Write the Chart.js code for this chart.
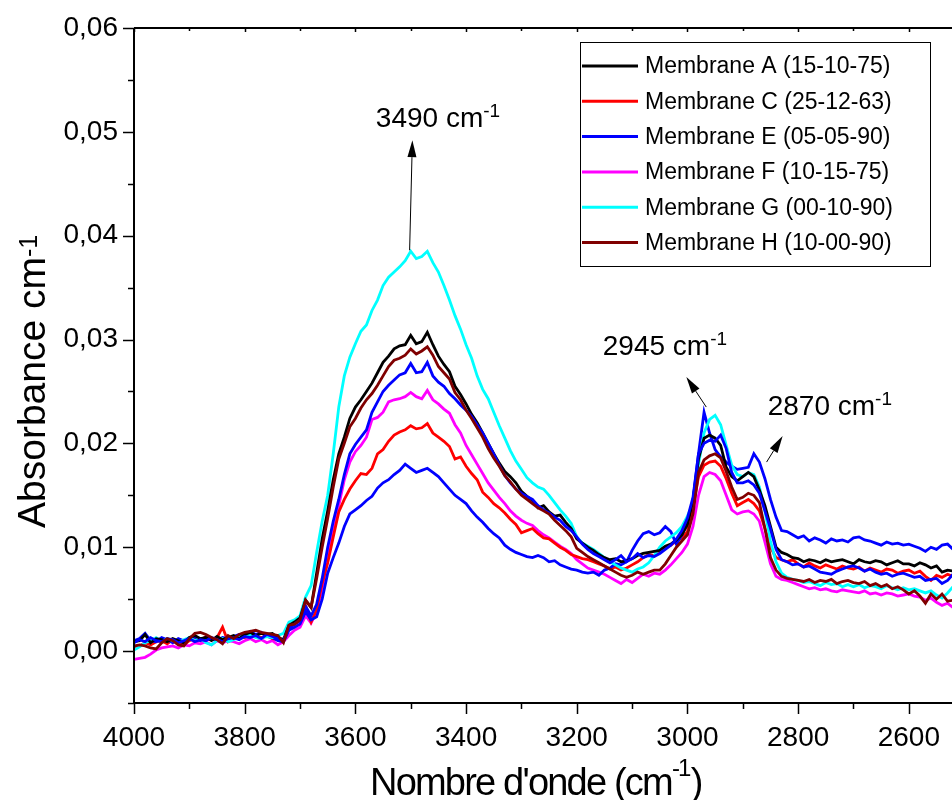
<!DOCTYPE html>
<html>
<head>
<meta charset="utf-8">
<script src="https://cdn.jsdelivr.net/npm/chart.js@4.4.1/dist/chart.umd.min.js"></script>
<style>
  html, body { margin: 0; padding: 0; background: #fff; }
  #wrap { width: 952px; height: 800px; }
</style>
</head>
<body>
<div id="wrap"><canvas id="chart" width="952" height="800"></canvas></div>
<script>
// Wavenumber grid (cm-1), read every 10 cm-1
const wavenumbers = [
  4000,3990,3980,3970,3960,3950,3940,3930,3920,3910,
  3900,3890,3880,3870,3860,3850,3840,3830,3820,3810,
  3800,3790,3780,3770,3760,3750,3740,3730,3720,3710,
  3700,3690,3680,3670,3660,3650,3640,3630,3620,3610,
  3600,3590,3580,3570,3560,3550,3540,3530,3520,3510,
  3500,3490,3480,3470,3460,3450,3440,3430,3420,3410,
  3400,3390,3380,3370,3360,3350,3340,3330,3320,3310,
  3300,3290,3280,3270,3260,3250,3240,3230,3220,3210,
  3200,3190,3180,3170,3160,3150,3140,3130,3120,3110,
  3100,3090,3080,3070,3060,3050,3040,3030,3020,3010,
  3000,2990,2980,2970,2960,2950,2940,2930,2920,2910,
  2900,2890,2880,2870,2860,2850,2840,2830,2820,2810,
  2800,2790,2780,2770,2760,2750,2740,2730,2720,2710,
  2700,2690,2680,2670,2660,2650,2640,2630,2620,2610,
  2600,2590,2580,2570,2560,2550,2540,2530,2520
];

// Absorbance values in units of 1e-3 cm-1
const membraneA = [
  0.9,1.0,1.6,0.8,1.2,1.1,0.9,1.2,1.0,0.8,
  1.3,1.5,1.2,1.3,1.0,1.4,1.1,1.3,1.5,1.2,
  1.6,1.8,1.5,1.7,1.6,1.7,1.3,1.1,2.5,2.8,
  3.2,4.9,4.2,7.5,10.8,13.5,16.5,19.0,20.6,22.4,
  23.5,24.2,25.0,25.8,26.8,27.8,28.4,29.1,29.4,29.5,
  30.4,29.6,29.8,30.7,29.5,28.4,27.6,26.9,25.5,24.7,
  23.8,22.8,22.0,21.0,20.0,19.0,18.1,17.3,16.8,16.2,
  15.4,14.9,14.5,13.8,14.0,13.4,13.0,13.1,12.4,11.8,
  10.8,10.4,10.0,9.7,9.3,9.0,8.8,8.9,8.6,8.7,
  8.9,9.2,9.4,9.5,9.6,9.7,10.1,10.3,10.7,11.2,
  12.2,14.5,18.5,20.5,20.8,20.5,19.8,17.7,16.8,16.4,
  16.8,17.2,16.8,15.5,14.0,12.0,10.0,9.5,9.3,9.0,
  8.9,8.6,8.8,8.7,8.5,8.8,8.6,8.7,8.8,8.6,
  8.4,8.8,8.6,8.5,8.7,8.6,8.3,8.5,8.7,8.4,
  8.4,8.2,8.5,8.3,8.0,8.2,7.6,7.8,7.7
];
const membraneC = [
  0.4,0.5,0.8,0.6,0.9,1.0,0.7,1.1,0.8,0.6,
  1.0,1.2,1.0,1.4,1.1,1.3,2.3,0.9,1.2,1.4,
  1.3,1.5,1.4,1.3,1.5,1.2,1.1,0.9,2.3,2.6,
  2.9,4.4,2.8,4.0,6.5,8.5,11.0,13.4,14.6,15.6,
  16.4,17.1,17.0,17.6,19.0,19.4,20.2,20.8,21.1,21.3,
  21.7,21.4,21.5,21.9,21.0,20.6,20.2,19.7,18.5,18.7,
  17.8,17.1,16.5,15.3,14.8,14.2,13.8,13.3,12.7,12.2,
  11.4,11.6,11.8,11.3,10.9,10.8,10.4,10.0,9.7,9.3,
  9.1,8.9,8.8,8.6,8.4,8.2,7.9,8.1,7.8,8.0,
  8.3,8.6,9.0,9.3,9.2,9.8,10.0,10.2,10.6,10.9,
  11.5,13.8,16.8,17.9,18.2,18.3,17.8,16.6,15.2,14.0,
  14.3,14.6,14.2,13.5,11.8,10.0,9.0,8.8,8.6,8.8,
  8.4,8.1,8.5,8.2,8.0,8.3,8.1,7.9,8.2,8.0,
  7.9,8.1,7.7,8.0,7.8,7.6,7.9,7.8,7.5,7.7,
  7.8,7.5,7.7,7.2,6.8,7.3,7.1,7.4,7.2
];
const membraneE = [
  1.0,1.2,1.7,1.0,0.9,1.3,1.1,0.8,1.2,1.0,
  1.1,1.4,1.0,1.3,1.2,1.0,1.3,1.2,1.4,1.6,
  1.5,1.9,1.6,1.8,1.4,1.3,1.0,0.9,2.0,2.3,
  2.6,3.8,3.0,3.3,5.0,7.5,9.0,10.4,12.0,13.2,
  13.6,14.0,14.5,14.9,15.7,16.2,16.5,17.0,17.4,18.0,
  17.6,17.2,17.4,17.6,17.2,16.8,16.2,15.6,15.0,14.6,
  14.2,13.5,12.9,12.4,11.8,11.3,10.9,10.2,9.8,9.5,
  9.3,9.1,9.0,9.2,9.0,8.6,8.7,8.3,8.1,7.9,
  7.8,7.6,7.5,7.6,7.3,7.8,8.0,8.4,8.3,8.6,
  9.7,10.6,11.3,11.5,11.2,11.4,12.0,11.5,10.3,11.2,
  12.6,14.5,19.0,23.0,21.0,19.4,18.7,18.2,17.8,17.5,
  17.6,17.7,19.0,18.2,16.6,14.6,12.9,11.6,11.5,11.2,
  10.9,11.1,10.6,10.9,10.7,10.4,10.8,10.6,10.7,10.5,
  10.9,11.0,10.7,10.6,10.4,10.2,10.5,10.3,10.4,10.2,
  10.3,10.1,9.9,9.6,10.0,9.8,10.2,10.3,9.8
];
const membraneF = [
  -0.8,-0.7,-0.6,-0.3,0.1,0.3,0.4,0.5,0.3,0.6,
  0.5,0.8,0.7,0.9,0.6,1.0,0.8,1.0,0.9,0.7,
  1.0,1.2,0.9,1.1,0.8,1.0,0.6,0.9,1.5,2.0,
  2.3,3.4,2.7,3.8,6.0,9.0,12.0,14.0,16.5,18.2,
  19.2,19.8,20.6,22.3,22.5,23.0,24.0,24.2,24.3,24.5,
  24.9,24.5,24.3,25.1,24.2,23.8,23.3,22.9,21.8,21.0,
  19.8,18.9,18.0,17.1,16.2,15.5,14.8,14.2,13.5,13.0,
  12.6,12.3,12.1,11.6,11.2,10.9,10.5,10.1,9.8,9.4,
  8.8,8.4,8.0,7.8,7.6,7.4,7.1,6.8,6.5,6.9,
  6.6,7.0,7.4,7.2,7.5,7.4,7.8,8.3,8.9,9.5,
  10.3,12.0,15.0,16.8,17.2,17.0,16.4,15.0,13.6,13.2,
  13.4,13.5,13.2,12.5,10.5,8.4,7.2,6.9,6.8,6.6,
  6.4,6.2,6.0,6.1,5.9,6.0,5.8,5.7,5.9,5.8,
  5.7,5.6,5.8,5.5,5.6,5.4,5.6,5.5,5.3,5.4,
  5.5,5.3,5.2,4.9,5.1,4.7,4.4,4.6,4.2
];
const membraneG = [
  0.1,0.4,0.8,1.0,1.3,0.9,1.2,1.0,0.8,1.1,
  1.3,1.0,1.2,0.8,0.6,1.0,1.2,0.9,1.1,1.3,
  1.5,1.6,1.3,1.2,1.4,1.3,1.5,1.7,2.8,3.0,
  3.4,5.2,6.3,9.5,12.5,15.0,19.0,23.5,26.5,28.3,
  29.6,30.8,31.4,32.8,33.8,35.2,36.0,36.5,37.0,37.6,
  38.5,37.8,38.0,38.5,37.4,36.5,35.2,33.8,32.3,31.0,
  29.5,28.2,26.5,25.2,24.3,23.0,21.7,20.5,19.3,18.3,
  17.5,16.7,16.2,15.8,15.6,15.0,14.3,13.6,13.0,12.3,
  11.0,10.4,10.1,9.8,9.4,9.0,8.6,8.3,8.0,7.8,
  7.6,7.9,8.1,8.5,9.2,10.0,10.6,11.0,11.4,12.0,
  13.0,14.2,18.0,21.0,22.3,22.7,21.8,19.8,17.9,17.0,
  16.8,17.2,17.0,15.8,13.5,10.6,8.6,7.5,7.1,6.9,
  6.8,6.6,6.7,6.5,6.3,6.6,6.4,6.5,6.2,6.4,
  6.2,6.4,6.1,6.3,6.2,6.0,6.3,6.1,5.9,6.1,
  5.9,6.0,5.8,5.6,5.8,5.4,5.1,5.6,6.2
];
const membraneH = [
  0.5,0.6,0.5,0.3,0.2,0.8,1.2,1.0,0.6,0.5,
  1.2,1.7,1.8,1.6,1.3,1.1,0.7,1.5,1.2,1.6,
  1.8,1.9,2.0,1.8,1.7,1.6,1.5,0.8,2.5,2.6,
  3.0,4.9,4.2,7.0,10.0,12.8,15.8,18.5,20.0,21.6,
  22.4,23.4,24.2,24.8,25.6,26.5,27.4,28.0,28.2,28.5,
  29.1,28.6,28.9,29.3,28.5,27.4,26.8,26.2,24.9,24.2,
  23.2,22.4,21.5,20.6,19.5,18.6,17.8,16.9,16.3,15.6,
  15.0,14.6,14.2,13.8,13.5,13.2,12.6,12.1,11.6,11.0,
  9.9,9.5,9.1,8.8,8.5,8.2,7.9,7.6,7.3,7.1,
  7.3,7.6,7.4,7.6,7.8,7.8,8.4,9.2,10.0,10.6,
  11.2,13.2,17.2,18.4,18.8,19.0,18.6,17.3,15.8,14.6,
  14.8,15.2,15.0,14.3,11.8,9.0,7.8,7.2,7.0,6.9,
  6.8,6.7,6.9,6.6,6.8,6.7,6.9,6.5,6.7,6.8,
  6.6,6.5,6.7,6.3,6.5,6.2,6.4,6.0,6.2,5.9,
  5.5,5.8,5.3,4.6,5.5,5.0,5.5,4.8,4.9
];
// second blue trace drawn in the figure but not listed in its legend
const blueExtra = [
  0.8,1.1,0.9,1.3,1.0,0.9,1.2,1.1,0.8,1.0,
  1.2,0.9,1.1,1.0,1.3,1.1,0.9,1.2,1.3,1.1,
  1.4,1.3,1.5,1.2,1.6,1.4,1.2,1.0,2.2,2.6,
  3.0,4.3,3.4,4.5,7.0,10.0,12.5,14.6,17.0,19.0,
  19.9,20.6,21.3,23.0,24.0,25.0,25.6,26.1,26.6,26.8,
  27.7,26.8,26.9,27.8,26.5,25.9,25.5,24.8,24.3,23.7,
  23.2,22.6,21.8,21.0,20.0,19.0,17.9,16.9,16.2,15.6,
  15.2,14.9,14.6,14.0,13.6,13.3,12.9,12.6,12.0,11.6,
  11.0,10.3,9.8,9.4,9.1,8.8,8.5,8.8,9.2,8.6,
  8.9,9.4,9.0,9.2,9.1,9.4,9.8,10.2,10.8,11.6,
  12.8,14.8,19.0,20.0,20.3,20.2,20.8,19.5,17.2,16.2,
  16.2,16.4,16.0,15.2,13.5,11.8,9.8,8.8,8.6,8.3,
  8.4,8.1,8.2,7.9,7.6,7.5,7.4,7.7,7.9,8.1,
  8.2,8.0,7.7,7.9,7.6,7.4,7.5,7.2,7.4,7.5,
  7.3,7.1,7.2,6.8,6.9,7.0,6.5,6.8,7.4
];

const seriesLabels = [
  'Membrane A (15-10-75)', 'Membrane C (25-12-63)', 'Membrane E (05-05-90)',
  'Membrane F (10-15-75)', 'Membrane G (00-10-90)', 'Membrane H (10-00-90)', ''
];
const seriesValues = [membraneA, membraneC, membraneE, membraneF, membraneG, membraneH, blueExtra];
const seriesColors = ['#000000', '#ff0000', '#0000ff', '#ff00ff', '#00ffff', '#800000', '#0000ff'];
const drawOrder = [2, 5, 4, 6, 3, 0, 1];

// axis ticks
const xTickValues = [2600,2700,2800,2900,3000,3100,3200,3300,3400,3500,3600,3700,3800,3900,4000];
const yTickValues = [-0.005,0,0.005,0.01,0.015,0.02,0.025,0.03,0.035,0.04,0.045,0.05,0.055,0.06];
const yLabelValues = [0, 0.01, 0.02, 0.03, 0.04, 0.05, 0.06];

// peak annotations: label, label anchor, arrow tail, arrow tip (data coords)
const peakLabels = ['3490 cm', '2945 cm', '2870 cm'];
const peakLabelAt = [[3563, 0.0505], [3153, 0.0285], [2855, 0.0227]];
const peakArrowFrom = [[3502, 0.0386], [2966, 0.0235], [2857, 0.0182]];
const peakArrowTo = [[3497, 0.0492], [3002, 0.0264], [2828, 0.0207]];

const FONT = '"Liberation Sans", Arial, Helvetica, sans-serif';

// text followed by a raised superscript, returns total width
function drawSup(ctx, x, y, main, sup, size, supSize, raise, spacing) {
    ctx.letterSpacing = (spacing || 0) + 'px';
    ctx.font = size + 'px ' + FONT;
    ctx.fillText(main, x, y);
    const w = ctx.measureText(main).width;
    ctx.font = supSize + 'px ' + FONT;
    ctx.fillText(sup, x + w, y - raise);
    return w + ctx.measureText(sup).width;
}

const decorations = {
    id: 'decorations',
    afterDraw(chart) {
        const ctx = chart.ctx;
        const a = chart.chartArea;
        const xs = chart.scales.x;
        const ys = chart.scales.y;
        ctx.save();

        // frame lines
        ctx.strokeStyle = '#000';
        ctx.lineWidth = 2;
        ctx.beginPath();
        ctx.moveTo(a.left, a.top); ctx.lineTo(a.right, a.top);
        ctx.moveTo(a.left, a.top); ctx.lineTo(a.left, a.bottom); ctx.lineTo(a.right, a.bottom);
        ctx.stroke();

        // tick marks
        ctx.lineWidth = 1.5;
        ctx.beginPath();
        xTickValues.forEach(v => {
            const px = Math.round(xs.getPixelForValue(v)) + 0.5;
            if (px > a.right) return;
            const major = v % 200 === 0;
            ctx.moveTo(px, a.bottom); ctx.lineTo(px, a.bottom + (major ? 11 : 6));
            ctx.moveTo(px, a.top); ctx.lineTo(px, a.top + (major ? 4 : 3));
        });
        yTickValues.forEach(v => {
            const py = Math.round(ys.getPixelForValue(v)) + 0.5;
            const major = Math.abs(v * 100 - Math.round(v * 100)) < 1e-6;
            ctx.moveTo(a.left - (major ? 11 : 6), py); ctx.lineTo(a.left, py);
        });
        ctx.stroke();

        // axis titles
        ctx.fillStyle = '#000';
        ctx.textBaseline = 'alphabetic';
        ctx.textAlign = 'left';
        const wt = drawSup(ctx, 370, 795, "Nombre d'onde (cm", '-1', 38, 24, 19, -1.8);
        ctx.font = '38px ' + FONT;
        ctx.fillText(')', 370 + wt + 1, 795);

        ctx.save();
        ctx.translate(45, 528);
        ctx.rotate(-Math.PI / 2);
        drawSup(ctx, 0, 0, 'Absorbance cm', '-1', 39, 25, 8, 0);
        ctx.restore();

        // peak annotations
        peakLabels.forEach((txt, i) => {
            const lx = xs.getPixelForValue(peakLabelAt[i][0]);
            const ly = ys.getPixelForValue(peakLabelAt[i][1]);
            drawSup(ctx, lx, ly, txt, '-1', 28, 19, 10, 0);

            const x1 = xs.getPixelForValue(peakArrowFrom[i][0]);
            const y1 = ys.getPixelForValue(peakArrowFrom[i][1]);
            const x2 = xs.getPixelForValue(peakArrowTo[i][0]);
            const y2 = ys.getPixelForValue(peakArrowTo[i][1]);
            const ang = Math.atan2(y2 - y1, x2 - x1);
            const head = 17, half = 4.5;
            const bx = x2 - head * Math.cos(ang), by = y2 - head * Math.sin(ang);
            ctx.lineWidth = 1;
            ctx.beginPath();
            ctx.moveTo(x1, y1); ctx.lineTo(bx, by);
            ctx.stroke();
            ctx.beginPath();
            ctx.moveTo(x2, y2);
            ctx.lineTo(bx + half * Math.sin(ang), by - half * Math.cos(ang));
            ctx.lineTo(bx - half * Math.sin(ang), by + half * Math.cos(ang));
            ctx.closePath();
            ctx.fill();
        });

        // legend box
        const boxL = 580.5, boxT = 42.5, boxR = 930.5, boxB = 266.5;
        ctx.fillStyle = '#fff';
        ctx.fillRect(boxL, boxT, boxR - boxL, boxB - boxT);
        ctx.strokeStyle = '#000';
        ctx.lineWidth = 1;
        ctx.strokeRect(boxL, boxT, boxR - boxL, boxB - boxT);
        ctx.letterSpacing = '0px';
        ctx.font = '23px ' + FONT;
        ctx.textBaseline = 'middle';
        let row = 0;
        chart.data.datasets.forEach(ds => {
            if (!ds.label) return;
            const yy = 66 + row * 35.3;
            ctx.strokeStyle = ds.borderColor;
            ctx.lineWidth = 3;
            ctx.beginPath();
            ctx.moveTo(582, yy); ctx.lineTo(638, yy);
            ctx.stroke();
            ctx.fillStyle = '#000';
            ctx.fillText(ds.label, 645, yy + 1);
            row++;
        });
        ctx.restore();
    }
};

const datasets = seriesValues.map((vals, i) => ({
    label: seriesLabels[i],
    data: vals.map((v, j) => ({ x: wavenumbers[j], y: v / 1000 })),
    borderColor: seriesColors[i],
    borderWidth: 2.8,
    pointRadius: 0,
    tension: 0,
    fill: false,
    order: drawOrder[i]
}));

new Chart(document.getElementById('chart'), {
    type: 'line',
    data: { datasets: datasets },
    options: {
        responsive: false,
        animation: false,
        layout: { padding: { top: 28, right: 0, left: 0, bottom: 0 } },
        plugins: {
            legend: { display: false },
            tooltip: { enabled: false }
        },
        scales: {
            x: {
                type: 'linear',
                reverse: true,
                min: 2522,
                max: 4000,
                afterBuildTicks: s => { s.ticks = xTickValues.map(v => ({ value: v })); },
                afterFit: s => { s.height = 97; s.paddingLeft = 0; s.paddingRight = 0; },
                grid: { display: false, drawTicks: false },
                border: { display: false },
                ticks: {
                    autoSkip: false,
                    maxRotation: 0,
                    padding: 18,
                    color: '#000',
                    font: { family: FONT, size: 28 },
                    callback: v => (v % 200 === 0 ? String(v) : '')
                }
            },
            y: {
                min: -0.005,
                max: 0.06,
                afterBuildTicks: s => { s.ticks = yLabelValues.map(v => ({ value: v })); },
                afterFit: s => { s.width = 134; s.paddingTop = 0; s.paddingBottom = 0; },
                grid: { display: false, drawTicks: false },
                border: { display: false },
                ticks: {
                    padding: 16,
                    color: '#000',
                    font: { family: FONT, size: 28 },
                    callback: v => v.toFixed(2).replace('.', ',')
                }
            }
        }
    },
    plugins: [decorations]
});
</script>
</body>
</html>
